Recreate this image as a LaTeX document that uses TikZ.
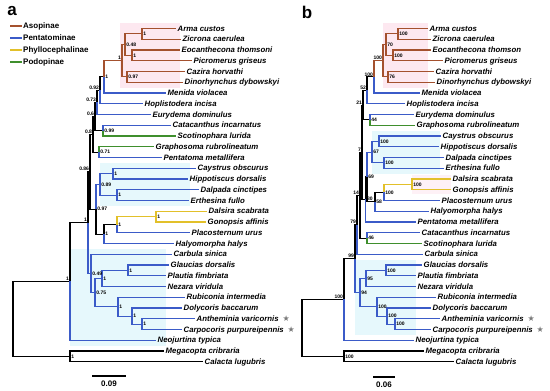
\documentclass[tikz,border=0pt]{standalone}
\usepackage{fontspec}
\setmainfont{Liberation Sans}
\newfontfamily\symfont{DejaVu Sans}
\usetikzlibrary{calc}
\definecolor{asop}{HTML}{A4512E}
\definecolor{penta}{HTML}{3B5BC8}
\definecolor{phyllo}{HTML}{E2C02A}
\definecolor{podo}{HTML}{3F8F2D}
\definecolor{pinkbg}{HTML}{FDE8F0}
\definecolor{cyanbg}{HTML}{E6F8FC}
\definecolor{starc}{HTML}{7A7A7A}
\newcommand{\rowy}[1]{28.5+10.75*#1}
\newcommand{\inode}[4]{\path ($(#3)!0.5!(#4)$) coordinate (tmpq); \coordinate (#1) at (tmpq -| #2,0);}
\newcommand{\labR}[2]{\node[supr] (L#1) at (#1) {#2};}
\newcommand{\labL}[2]{\node[supl] (L#1) at (#1) {#2};}
\newcommand{\br}[3]{\draw[branch,#1] (#2) |- (#3);}
\begin{document}
\begin{tikzpicture}[x=1pt,y=-1pt,
  branch/.style={line width=1.1pt},
  tip/.style={anchor=west,inner xsep=1.5pt,inner ysep=0pt,font=\fontsize{7.8}{8}\selectfont\bfseries\itshape,text height=5.6pt,text depth=0.4pt},
  supr/.style={anchor=west,inner sep=0pt,xshift=1.2pt,font=\fontsize{5}{5}\selectfont\bfseries},
  supl/.style={anchor=south east,inner sep=0pt,xshift=-0.8pt,yshift=0.6pt,font=\fontsize{5}{5}\selectfont\bfseries},
  starmark/.style={anchor=west,inner sep=0pt,xshift=2pt,text=starc,font=\symfont\fontsize{8}{8}\selectfont},
  panel/.style={font=\fontsize{17}{17}\selectfont\bfseries,inner sep=0pt},
  legtext/.style={anchor=west,inner sep=1pt,font=\fontsize{8}{8}\selectfont\bfseries},
  sbtext/.style={inner sep=0pt,font=\fontsize{8}{8}\selectfont\bfseries}]
\useasboundingbox (0,0) rectangle (550,391);

% ---------------- backgrounds
\fill[pinkbg] (120,{\rowy{0}-5.4}) rectangle (180,{\rowy{5}+5.4});
\fill[cyanbg] (100,{\rowy{13}-5.4}) rectangle (190,{\rowy{16}+5.4});
\fill[cyanbg] (70,{\rowy{21}-5.4}) rectangle (166,{\rowy{29}+5.4});
\fill[pinkbg] (383,{\rowy{0}-5.4}) rectangle (428,{\rowy{5}+5.4});
\fill[cyanbg] (372,{\rowy{10}-5.4}) rectangle (440,{\rowy{13}+5.4});
\fill[pinkbg!60] (412,{\rowy{14}-4}) rectangle (451,{\rowy{15}+4});
\fill[cyanbg] (355,{\rowy{22}-5.4}) rectangle (416,{\rowy{28}+5.4});

% ---------------- panel letters and legend
\node[panel] (pa) at (12,11) {a};
\node[panel] (pb) at (307,12) {b};
\draw[line width=1.6pt,asop] (10,26) -- (22,26);
\node[legtext] (lg1) at (22,26) {Asopinae};
\draw[line width=1.6pt,penta] (10,38) -- (22,38);
\node[legtext] (lg2) at (22,38) {Pentatominae};
\draw[line width=1.6pt,phyllo] (10,50) -- (22,50);
\node[legtext] (lg3) at (22,50) {Phyllocephalinae};
\draw[line width=1.6pt,podo] (10,62) -- (22,62);
\node[legtext] (lg4) at (22,62) {Podopinae};

% ---------------- panel a tips
\node[tip] (ta0) at (176,{\rowy{0}}) {Arma custos};
\node[tip] (ta1) at (181,{\rowy{1}}) {Zicrona caerulea};
\node[tip] (ta2) at (180,{\rowy{2}}) {Eocanthecona thomsoni};
\node[tip] (ta3) at (192,{\rowy{3}}) {Picromerus griseus};
\node[tip] (ta4) at (185,{\rowy{4}}) {Cazira horvathi};
\node[tip] (ta5) at (183,{\rowy{5}}) {Dinorhynchus dybowskyi};
\node[tip] (ta6) at (166,{\rowy{6}}) {Menida violacea};
\node[tip] (ta7) at (143,{\rowy{7}}) {Hoplistodera incisa};
\node[tip] (ta8) at (151,{\rowy{8}}) {Eurydema dominulus};
\node[tip] (ta9) at (171,{\rowy{9}}) {Catacanthus incarnatus};
\node[tip] (ta10) at (176,{\rowy{10}}) {Scotinophara lurida};
\node[tip] (ta11) at (154,{\rowy{11}}) {Graphosoma rubrolineatum};
\node[tip] (ta12) at (162,{\rowy{12}}) {Pentatoma metallifera};
\node[tip] (ta13) at (196,{\rowy{13}}) {Caystrus obscurus};
\node[tip] (ta14) at (188,{\rowy{14}}) {Hippotiscus dorsalis};
\node[tip] (ta15) at (199,{\rowy{15}}) {Dalpada cinctipes};
\node[tip] (ta16) at (189,{\rowy{16}}) {Erthesina fullo};
\node[tip] (ta17) at (207,{\rowy{17}}) {Dalsira scabrata};
\node[tip] (ta18) at (206,{\rowy{18}}) {Gonopsis affinis};
\node[tip] (ta19) at (190,{\rowy{19}}) {Placosternum urus};
\node[tip] (ta20) at (174,{\rowy{20}}) {Halyomorpha halys};
\node[tip] (ta21) at (172,{\rowy{21}}) {Carbula sinica};
\node[tip] (ta22) at (169,{\rowy{22}}) {Glaucias dorsalis};
\node[tip] (ta23) at (166,{\rowy{23}}) {Plautia fimbriata};
\node[tip] (ta24) at (166,{\rowy{24}}) {Nezara viridula};
\node[tip] (ta25) at (185,{\rowy{25}}) {Rubiconia intermedia};
\node[tip] (ta26) at (182,{\rowy{26}}) {Dolycoris baccarum};
\node[tip] (ta27) at (195,{\rowy{27}}) {Antheminia varicornis};
\node[tip] (ta28) at (182,{\rowy{28}}) {Carpocoris purpureipennis};
\node[tip] (ta29) at (156,{\rowy{29}}) {Neojurtina typica};
\node[tip] (ta30) at (164,{\rowy{30}}) {Megacopta cribraria};
\node[tip] (ta31) at (203,{\rowy{31}}) {Calacta lugubris};
\node[starmark] (sa27) at (ta27.east) {★};
\node[starmark] (sa28) at (ta28.east) {★};

% ---------------- panel a internal nodes
\inode{aAZ}{142}{ta0}{ta1}
\inode{aEP}{132}{ta2}{ta3}
\inode{aAE}{125}{aAZ}{aEP}
\inode{aCD}{127}{ta4}{ta5}
\inode{aAs}{122}{aAE}{aCD}
\inode{aNA}{104}{aAs}{ta6}
\inode{aNB}{100}{aNA}{ta7}
\inode{aNC}{97}{aNB}{ta8}
\inode{aCS}{103}{ta9}{ta10}
\inode{aND}{95}{aNC}{aCS}
\inode{aGP}{99}{ta11}{ta12}
\inode{aNE}{93}{aND}{aGP}
\inode{aCH}{113}{ta13}{ta14}
\inode{aDE}{117}{ta15}{ta16}
\inode{aCE}{100}{aCH}{aDE}
\inode{aDG}{156}{ta17}{ta18}
\inode{aDP}{117}{aDG}{ta19}
\inode{aDH}{104}{aDP}{ta20}
\inode{aNG}{96}{aCE}{aDH}
\inode{aNF}{90}{aNE}{aNG}
\inode{aGl}{128}{ta22}{ta23}
\inode{aGN}{102}{aGl}{ta24}
\inode{aAC}{142}{ta27}{ta28}
\inode{aDA}{132}{ta26}{aAC}
\inode{aRD}{118}{ta25}{aDA}
\inode{aSF}{95}{aGN}{aRD}
\inode{aL}{91}{ta21}{aSF}
\inode{aB}{88}{aNF}{aL}
\inode{aI}{70}{aB}{ta29}
\inode{aO}{70}{ta30}{ta31}
\inode{aR}{13}{aI}{aO}

% ---------------- panel a branches
\br{black}{aNB}{aNA} \br{black}{aNC}{aNB} \br{black}{aND}{aNC} \br{black}{aND}{aCS}
\br{black}{aNE}{aND} \br{black}{aNE}{aGP} \br{black}{aNF}{aNE} \br{black}{aNF}{aNG}
\br{black}{aNG}{aDH} \br{black}{aDH}{aDP} \br{black}{aB}{aNF} \br{black}{aI}{aB}
\br{black}{aR}{aI} \br{black}{aR}{aO} \br{black}{aO}{ta30.west} \br{black}{aO}{ta31.west}
\br{asop}{aAZ}{ta0.west} \br{asop}{aAZ}{ta1.west} \br{asop}{aEP}{ta2.west} \br{asop}{aEP}{ta3.west}
\br{asop}{aAE}{aAZ} \br{asop}{aAE}{aEP} \br{asop}{aCD}{ta4.west} \br{asop}{aCD}{ta5.west}
\br{asop}{aAs}{aAE} \br{asop}{aAs}{aCD} \br{asop}{aNA}{aAs}
\br{penta}{aNA}{ta6.west} \br{penta}{aNB}{ta7.west} \br{penta}{aNC}{ta8.west} \br{penta}{aCS}{ta9.west}
\br{penta}{aGP}{ta12.west} \br{penta}{aCH}{ta13.west} \br{penta}{aCH}{ta14.west}
\br{penta}{aDE}{ta15.west} \br{penta}{aDE}{ta16.west} \br{penta}{aCE}{aCH} \br{penta}{aCE}{aDE}
\br{penta}{aNG}{aCE} \br{penta}{aDP}{ta19.west} \br{penta}{aDH}{ta20.west} \br{penta}{aL}{ta21.west}
\br{penta}{aGl}{ta22.west} \br{penta}{aGl}{ta23.west} \br{penta}{aGN}{aGl} \br{penta}{aGN}{ta24.west}
\br{penta}{aAC}{ta27.west} \br{penta}{aAC}{ta28.west} \br{penta}{aDA}{ta26.west} \br{penta}{aDA}{aAC}
\br{penta}{aRD}{ta25.west} \br{penta}{aRD}{aDA} \br{penta}{aSF}{aGN} \br{penta}{aSF}{aRD}
\br{penta}{aL}{aSF} \br{penta}{aB}{aL} \br{penta}{aI}{ta29.west}
\br{podo}{aCS}{ta10.west} \br{podo}{aGP}{ta11.west}
\br{phyllo}{aDG}{ta17.west} \br{phyllo}{aDG}{ta18.west} \br{phyllo}{aDP}{aDG}

% ---------------- panel a support values
\labR{aAZ}{1} \labR{aEP}{1} \labR{aAE}{0.48} \labR{aCD}{0.97} \labL{aAs}{1} \labR{aNA}{1}
\labL{aNB}{0.92} \labL{aNC}{0.73} \labL{aND}{0.6} \labL{aNE}{0.8} \labR{aCS}{0.99} \labR{aGP}{0.71}
\labL{aNF}{0.86} \labR{aCH}{1} \labR{aDE}{1} \labR{aCE}{0.89} \labR{aNG}{0.97} \labR{aDG}{1}
\labR{aDP}{1} \labR{aDH}{1} \labL{aB}{1} \labR{aL}{0.49} \labR{aGl}{1} \labR{aGN}{1}
\labR{aSF}{0.75} \labR{aRD}{1} \labR{aDA}{1} \labR{aAC}{1} \labL{aI}{1} \labR{aO}{1}

% ---------------- panel b tips
\node[tip] (tb0) at (428,{\rowy{0}}) {Arma custos};
\node[tip] (tb1) at (431,{\rowy{1}}) {Zicrona caerulea};
\node[tip] (tb2) at (431,{\rowy{2}}) {Eocanthecona thomson};
\node[tip] (tb3) at (443,{\rowy{3}}) {Picromerus griseus};
\node[tip] (tb4) at (434,{\rowy{4}}) {Cazira horvathi};
\node[tip] (tb5) at (435,{\rowy{5}}) {Dinorhynchus dybowskyi};
\node[tip] (tb6) at (420,{\rowy{6}}) {Menida violacea};
\node[tip] (tb7) at (405,{\rowy{7}}) {Hoplistodera incisa};
\node[tip] (tb8) at (414,{\rowy{8}}) {Eurydema dominulus};
\node[tip] (tb9) at (415,{\rowy{9}}) {Graphosoma rubrolineatum};
\node[tip] (tb10) at (441,{\rowy{10}}) {Caystrus obscurus};
\node[tip] (tb11) at (439,{\rowy{11}}) {Hippotiscus dorsalis};
\node[tip] (tb12) at (444,{\rowy{12}}) {Dalpada cinctipes};
\node[tip] (tb13) at (444,{\rowy{13}}) {Erthesina fullo};
\node[tip] (tb14) at (451,{\rowy{14}}) {Dalsira scabrata};
\node[tip] (tb15) at (451,{\rowy{15}}) {Gonopsis affinis};
\node[tip] (tb16) at (440,{\rowy{16}}) {Placosternum urus};
\node[tip] (tb17) at (429,{\rowy{17}}) {Halyomorpha halys};
\node[tip] (tb18) at (416,{\rowy{18}}) {Pentatoma metallifera};
\node[tip] (tb19) at (420,{\rowy{19}}) {Catacanthus incarnatus};
\node[tip] (tb20) at (422,{\rowy{20}}) {Scotinophara lurida};
\node[tip] (tb21) at (423,{\rowy{21}}) {Carbula sinica};
\node[tip] (tb22) at (422,{\rowy{22}}) {Glaucias dorsalis};
\node[tip] (tb23) at (416,{\rowy{23}}) {Plautia fimbriata};
\node[tip] (tb24) at (416,{\rowy{24}}) {Nezara viridula};
\node[tip] (tb25) at (436,{\rowy{25}}) {Rubiconia intermedia};
\node[tip] (tb26) at (431,{\rowy{26}}) {Dolycoris baccarum};
\node[tip] (tb27) at (440,{\rowy{27}}) {Antheminia varicornis};
\node[tip] (tb28) at (431,{\rowy{28}}) {Carpocoris purpureipennis};
\node[tip] (tb29) at (414,{\rowy{29}}) {Neojurtina typica};
\node[tip] (tb30) at (424,{\rowy{30}}) {Megacopta cribraria};
\node[tip] (tb31) at (454,{\rowy{31}}) {Calacta lugubris};
\node[starmark] (sb27) at (tb27.east) {★};
\node[starmark] (sb28) at (tb28.east) {★};

% ---------------- panel b internal nodes
\inode{bAZ}{398}{tb0}{tb1}
\inode{bEP}{393}{tb2}{tb3}
\inode{bAE}{386}{bAZ}{bEP}
\inode{bCD}{388}{tb4}{tb5}
\inode{bAs}{383}{bAE}{bCD}
\inode{bNA}{374}{bAs}{tb6}
\inode{bNB}{367}{bNA}{tb7}
\inode{bEG}{370}{tb8}{tb9}
\inode{bNC}{363}{bNB}{bEG}
\inode{bCH}{379}{tb10}{tb11}
\inode{bDE}{384}{tb12}{tb13}
\inode{bCE}{372}{bCH}{bDE}
\inode{bDG}{412}{tb14}{tb15}
\inode{bDP}{384}{bDG}{tb16}
\inode{bDH}{375}{bDP}{tb17}
\inode{bNG}{367}{bCE}{bDH}
\inode{bNP}{365.5}{bNG}{tb18}
\inode{bNS}{362}{bNC}{bNP}
\inode{bCS}{367}{tb19}{tb20}
\inode{bNF}{360}{bNS}{bCS}
\inode{bNN}{357}{bNF}{tb21}
\inode{bGl}{386}{tb22}{tb23}
\inode{bGN}{366}{bGl}{tb24}
\inode{bAC}{395}{tb27}{tb28}
\inode{bDA}{387}{tb26}{bAC}
\inode{bRD}{377}{tb25}{bDA}
\inode{bSF}{360}{bGN}{bRD}
\inode{bNT}{355}{bNN}{bSF}
\inode{bI}{344}{bNT}{tb29}
\inode{bO}{344}{tb30}{tb31}
\inode{bR}{302}{bI}{bO}

% ---------------- panel b branches
\br{black}{bNB}{bNA} \br{black}{bNC}{bNB} \br{black}{bNC}{bEG} \br{black}{bNS}{bNC}
\br{black}{bNS}{bNP} \br{black}{bNP}{bNG} \br{black}{bNG}{bDH} \br{black}{bDH}{bDP}
\br{black}{bNF}{bNS} \br{black}{bNF}{bCS} \br{black}{bNN}{bNF} \br{black}{bNT}{bNN}
\br{black}{bI}{bNT} \br{black}{bR}{bI} \br{black}{bR}{bO} \br{black}{bO}{tb30.west} \br{black}{bO}{tb31.west}
\br{asop}{bAZ}{tb0.west} \br{asop}{bAZ}{tb1.west} \br{asop}{bEP}{tb2.west} \br{asop}{bEP}{tb3.west}
\br{asop}{bAE}{bAZ} \br{asop}{bAE}{bEP} \br{asop}{bCD}{tb4.west} \br{asop}{bCD}{tb5.west}
\br{asop}{bAs}{bAE} \br{asop}{bAs}{bCD} \br{asop}{bNA}{bAs}
\br{penta}{bNA}{tb6.west} \br{penta}{bNB}{tb7.west} \br{penta}{bEG}{tb8.west}
\br{penta}{bCH}{tb10.west} \br{penta}{bCH}{tb11.west} \br{penta}{bDE}{tb12.west} \br{penta}{bDE}{tb13.west}
\br{penta}{bCE}{bCH} \br{penta}{bCE}{bDE} \br{penta}{bNG}{bCE} \br{penta}{bDP}{tb16.west}
\br{penta}{bDH}{tb17.west} \br{penta}{bNP}{tb18.west} \br{penta}{bCS}{tb19.west} \br{penta}{bNN}{tb21.west}
\br{penta}{bGl}{tb22.west} \br{penta}{bGl}{tb23.west} \br{penta}{bGN}{bGl} \br{penta}{bGN}{tb24.west}
\br{penta}{bAC}{tb27.west} \br{penta}{bAC}{tb28.west} \br{penta}{bDA}{tb26.west} \br{penta}{bDA}{bAC}
\br{penta}{bRD}{tb25.west} \br{penta}{bRD}{bDA} \br{penta}{bSF}{bGN} \br{penta}{bSF}{bRD}
\br{penta}{bNT}{bSF} \br{penta}{bI}{tb29.west}
\br{podo}{bEG}{tb9.west} \br{podo}{bCS}{tb20.west}
\br{phyllo}{bDG}{tb14.west} \br{phyllo}{bDG}{tb15.west} \br{phyllo}{bDP}{bDG}

% ---------------- panel b support values
\labR{bAZ}{100} \labR{bEP}{100} \labR{bAE}{70} \labL{bAs}{100} \labR{bCD}{76} \labL{bNA}{100}
\labL{bNB}{52} \labL{bNC}{21} \labR{bEG}{44} \labR{bCH}{100} \labR{bDE}{100} \labR{bCE}{67}
\labR{bDG}{100} \labR{bDP}{100} \labR{bDH}{58} \labR{bNG}{69}
\node[anchor=north west,inner sep=0pt,font=\fontsize{5}{5}\selectfont\bfseries] (LbNP) at ([xshift=1.5pt,yshift=2.5pt]bNP) {80};
\labL{bNS}{7} \labR{bCS}{46} \labL{bNF}{14} \labL{bNN}{79} \labR{bGl}{100} \labR{bGN}{95}
\labR{bAC}{100} \labR{bDA}{100} \labR{bRD}{100} \labR{bSF}{94} \labL{bNT}{99} \labL{bI}{100} \labR{bO}{100}

% ---------------- scale bars
\coordinate (sa1) at (92,376); \coordinate (sa2) at (126,376);
\draw[line width=1.1pt] (sa1) -- (sa2);
\node[sbtext] (sat) at (109,384) {0.09};
\coordinate (sb1) at (373,377); \coordinate (sb2) at (395,377);
\draw[line width=1.1pt] (sb1) -- (sb2);
\node[sbtext] (sbt) at (384,385) {0.06};
\end{tikzpicture}
\end{document}
